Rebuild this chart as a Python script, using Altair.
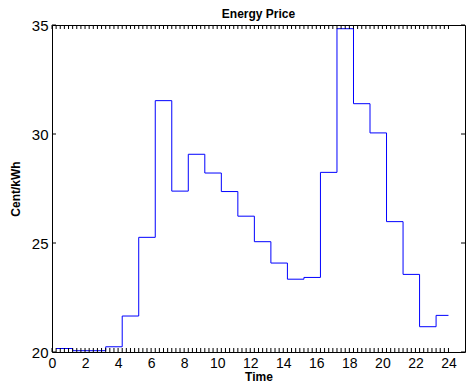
import altair as alt
import pandas as pd

# Step start times (hours) and price per step (Cent/kWh)
hours = [0.25, 1.25, 2.25, 3.25, 4.25, 5.25, 6.25, 7.25, 8.25, 9.25, 10.25, 11.25,
         12.25, 13.25, 14.25, 15.25, 16.25, 17.25, 18.25, 19.25, 20.25, 21.25,
         22.25, 23.25, 24.0]
price = [20.16, 20.06, 20.06, 20.24, 21.65, 25.26, 31.53, 27.38, 29.07, 28.21,
         27.36, 26.23, 25.06, 24.08, 23.34, 23.42, 28.24, 34.83, 31.39, 30.05,
         25.98, 23.56, 21.16, 21.68, 21.68]

x_labels = [0, 2, 4, 6, 8, 10, 12, 14, 16, 18, 20, 22, 24]
x_minor = [i * 0.25 for i in range(97)]
y_labels = [20, 25, 30, 35]

W, H = 413, 327
FONT = "Liberation Sans"

df = pd.DataFrame({"t": hours, "p": price})
xscale = alt.Scale(domain=[0, 25], nice=False, zero=False)
yscale = alt.Scale(domain=[20, 35], nice=False, zero=False)

xaxis = alt.Axis(values=x_labels, ticks=False, domain=False, grid=False,
                 title="Time", labelFontSize=14, labelPadding=4, labelColor="black",
                 titleFontSize=12, titleFontWeight="bold", titlePadding=1,
                 titleColor="black", labelFlush=False)
yaxis = alt.Axis(values=y_labels, ticks=False, domain=False, grid=False,
                 title="Cent/kWh", labelFontSize=15, labelPadding=4, labelColor="black",
                 titleFontSize=12, titleFontWeight="bold", titlePadding=9,
                 minExtent=21, maxExtent=21,
                 titleColor="black", labelFlush=False)

line = alt.Chart(df).mark_line(interpolate="step-after", color="#0000ff", strokeWidth=1).encode(
    x=alt.X("t:Q", scale=xscale, axis=xaxis),
    y=alt.Y("p:Q", scale=yscale, axis=yaxis),
)

xt = pd.DataFrame({"t": x_minor})
yt = pd.DataFrame({"p": y_labels})

bottom_ticks = alt.Chart(xt).mark_rule(color="black", strokeWidth=1).encode(
    x=alt.X("t:Q", scale=xscale, axis=xaxis), y=alt.value(H), y2=alt.value(H - 4))
top_ticks = alt.Chart(xt).mark_rule(color="black", strokeWidth=1).encode(
    x=alt.X("t:Q", scale=xscale, axis=xaxis), y=alt.value(0), y2=alt.value(4))
left_ticks = alt.Chart(yt).mark_rule(color="black", strokeWidth=1).encode(
    y=alt.Y("p:Q", scale=yscale, axis=yaxis), x=alt.value(0), x2=alt.value(4))
right_ticks = alt.Chart(yt).mark_rule(color="black", strokeWidth=1).encode(
    y=alt.Y("p:Q", scale=yscale, axis=yaxis), x=alt.value(W - 4), x2=alt.value(W))

chart = alt.layer(line, bottom_ticks, top_ticks, left_ticks, right_ticks).properties(
    width=W, height=H,
    title=alt.TitleParams("Energy Price", fontSize=12, fontWeight="bold", offset=-3,
                          anchor="middle", color="black"),
    autosize=alt.AutoSizeParams(type="none"),
    padding={"left": 44, "top": 17, "right": 1, "bottom": 31},
).configure(font=FONT, background="white").configure_view(stroke="black", strokeWidth=1)

chart.save("out.html", embed_options={"renderer": "svg", "actions": False})
